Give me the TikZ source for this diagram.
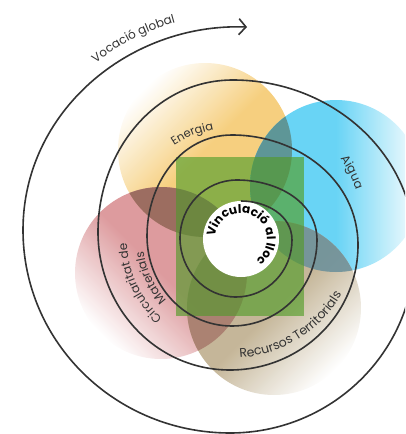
\documentclass[tikz,border=0pt]{standalone}
\usepackage{fontspec}
\setmainfont{Poppins}
\usetikzlibrary{decorations.text,arrows.meta}
\definecolor{ink}{HTML}{333333}
\definecolor{cEne}{HTML}{F5CB74}
\definecolor{cAig}{HTML}{5CD0F4}
\definecolor{cCir}{HTML}{DA9396}
\definecolor{cRec}{HTML}{C0B090}
\definecolor{cGrnM}{HTML}{B8DCA0}
\definecolor{cGrn}{HTML}{6BAE45}
\definecolor{lEC}{HTML}{94685A}
\definecolor{lEA}{HTML}{5E8F8C}
\definecolor{lAR}{HTML}{6E919B}
\definecolor{lCR}{HTML}{A87C6E}
\tikzset{
  bubble/.style={opacity=0.92},
  lens/.style={opacity=0.88},
  ring/.style={draw=ink, line width=1.6pt},
  arclabel/.style={decorate, decoration={text along path, text align=center, text={#1}}},
}
\begin{document}
\begin{tikzpicture}[x=1pt,y=1pt]
\useasboundingbox (0,0) rectangle (405,-434);
\clip (0,0) rectangle (405,-434);
% coloured circles
\shade[top color=white, bottom color=cEne, middle color=cEne, shading angle=45, bubble] (205,-150) circle[radius=87];
\shade[top color=white, bottom color=cAig, middle color=cAig, shading angle=-90, bubble] (336,-186) circle[radius=86];
\shade[top color=white, bottom color=cCir, middle color=cCir, shading angle=135, bubble] (161,-273) circle[radius=86];
\shade[top color=white, bottom color=cRec, middle color=cRec, shading angle=225, bubble] (274,-308) circle[radius=87];
% overlaps
\begin{scope}
  \clip (205,-150) circle[radius=87];
  \fill[lEC, lens] (161,-273) circle[radius=86];
  \fill[lEA, lens] (336,-186) circle[radius=86];
\end{scope}
\begin{scope}
  \clip (274,-308) circle[radius=87];
  \fill[lAR, lens] (336,-186) circle[radius=86];
  \fill[lCR, lens] (161,-273) circle[radius=86];
\end{scope}
% green square
\fill[cGrnM, blend mode=multiply] (176,-157) rectangle (304,-316);
\fill[cGrn, opacity=0.52] (176,-157) rectangle (304,-316);
% white centre
\fill[white] (241,-239) circle[radius=38];
% spiral
\draw[ring, -{Straight Barb[length=7pt,width=16pt]}]
  (241,-201) to[out=0,in=90] (292,-240) to[out=-90,in=0] (236,-297)
  to[out=180,in=-90] (180,-238) to[out=90,in=180] (237,-180)
  to[out=0,in=90] (317,-240) to[out=-90,in=0] (232,-326)
  to[out=180,in=-90] (147,-236) to[out=90,in=180] (232,-135)
  to[out=0,in=90] (358,-245) to[out=-90,in=0] (230,-370)
  to[out=180,in=-90] (98,-232) to[out=90,in=180] (233,-80)
  to[out=0,in=90] (415,-250) to[out=-90,in=0] (230,-433)
  to[out=180,in=-90] (23,-230) to[out=90,in=178] (247,-27);
% labels
\path[arclabel={|\fontsize{12}{14}\selectfont\color{ink}|Vocació global}] (232,-232) ++(150:217) arc[start angle=150, end angle=84, radius=217];
\path[arclabel={|\fontsize{11.5}{14}\selectfont\color{ink}|Energia}] (232,-232) ++(140:104) arc[start angle=140, end angle=84, radius=104];
\path[arclabel={|\fontsize{12}{14}\selectfont\color{ink}|Aigua}] (232,-232) ++(50:131) arc[start angle=50, end angle=3, radius=131];
\path[arclabel={|\fontsize{12.5}{15}\selectfont\color{ink}|Recursos Territorials}] (232,-232) ++(250:126) arc[start angle=250, end angle=354, radius=126];
\path[arclabel={|\fontsize{12}{14}\selectfont\color{ink}|Circularitat de}] (232,-240) ++(255:105) arc[start angle=255, end angle=155, radius=105];
\path[arclabel={|\fontsize{12}{14}\selectfont\color{ink}|Materials}] (232,-240) ++(255:89) arc[start angle=255, end angle=155, radius=89];
\path[arclabel={|\fontsize{12}{14}\selectfont\bfseries\color{black}|Vinculació al lloc}] (241,-239) ++(180:26) arc[start angle=180, end angle=-60, radius=26];
\end{tikzpicture}
\end{document}
